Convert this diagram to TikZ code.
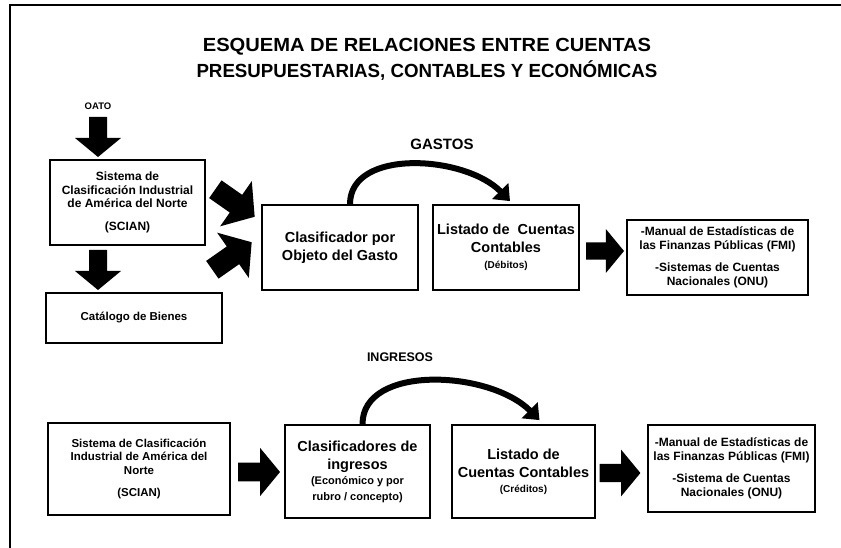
\documentclass[tikz,border=0pt]{standalone}
\usepackage{fontspec}
\setmainfont{Liberation Sans}
\usetikzlibrary{arrows.meta}
\newcommand\fatarr[3]{\begin{scope}[shift={(#1)},rotate=#2,scale=#3]
 \fill[black] (-20,-9) -- (1,-9) -- (1,-23) -- (20,0) -- (1,23) -- (1,9) -- (-20,9) -- cycle;
\end{scope}}
\newcommand\smalltxt{\fontsize{10}{12}\selectfont}
\newcommand\midtxt{\fontsize{11}{13.5}\selectfont}
\tikzset{
 box/.style={draw, line width=1.8pt, align=center, inner sep=0pt, font=\bfseries\fontsize{11.5}{13.5}\selectfont},
 bigtxt/.style={font=\bfseries\fontsize{14.5}{18}\selectfont},
 mantxt/.style={font=\bfseries\fontsize{12}{13.5}\selectfont},
 lbl/.style={font=\bfseries\fontsize{13}{15}\selectfont},
 curvearr/.style={line width=6pt, -{Triangle[width=22pt,length=14pt]}},
}
\begin{document}
\begin{tikzpicture}[x=1pt,y=-1pt]
\useasboundingbox (0,0) rectangle (841,548);
% frame
\coordinate (fbl) at (10,548); \coordinate (ftl) at (10,5); \coordinate (ftr) at (841,5);
\draw[line width=1.6pt] (fbl) -- (ftl) -- (ftr);
% title
\node[font=\bfseries\fontsize{19}{26}\selectfont, align=center] (title) at (427,59)
 {\scalebox{1.06}[1]{ESQUEMA DE RELACIONES ENTRE CUENTAS}\\\scalebox{0.985}[1]{PRESUPUESTARIAS, CONTABLES Y ECONÓMICAS}};
\node[font=\bfseries\fontsize{9.5}{11}\selectfont] (oato) at (98,106) {OATO};
% row 1
\node[box, font=\bfseries\fontsize{12}{13.5}\selectfont, minimum width=155pt, minimum height=85pt] (sc1) at (127.5,202.5)
 {Sistema de\\Clasificación Industrial\\de América del Norte\\[9pt](SCIAN)};
\node[box, minimum width=176pt, minimum height=50pt] (cat) at (134,318) {Catálogo de Bienes};
\node[box, bigtxt, minimum width=156pt, minimum height=85pt] (obj) at (340,247.5)
 {Clasificador por\\Objeto del Gasto};
\node[box, bigtxt, minimum width=146pt, minimum height=85pt] (lis1) at (506,247.5)
 {Listado de \ Cuentas\\Contables\\[-2pt]\smalltxt (Débitos)};
\node[box, mantxt, minimum width=181pt, minimum height=75pt] (man1) at (717.5,257.5)
 {-Manual de Estadísticas de\\las Finanzas Públicas (FMI)\\[9pt]-Sistemas de Cuentas\\Nacionales (ONU)};
\node[lbl, font=\bfseries\fontsize{15}{17}\selectfont] (gastos) at (442,144) {GASTOS};
% row 2
\node[lbl, font=\bfseries\fontsize{12.5}{15}\selectfont] (ingresos) at (400,357) {INGRESOS};
\node[box, minimum width=182pt, minimum height=92pt] (sc2) at (139,469)
 {Sistema de Clasificación\\Industrial de América del\\Norte\\[9pt](SCIAN)};
\node[box, bigtxt, minimum width=145pt, minimum height=93pt] (cls2) at (357.5,471.5)
 {Clasificadores de\\ingresos\\[-3pt]\midtxt (Económico y por\\[-2pt]\midtxt rubro / concepto)};
\node[box, bigtxt, minimum width=143pt, minimum height=93pt] (lis2) at (523.5,471.5)
 {Listado de\\Cuentas Contables\\[-3pt]\smalltxt (Créditos)};
\node[box, mantxt, minimum width=167pt, minimum height=87pt] (man2) at (731.5,468.5)
 {-Manual de Estadísticas de\\las Finanzas Públicas (FMI)\\[9pt]-Sistema de Cuentas\\Nacionales (ONU)};
% fat arrows
\fatarr{98,137}{-90}{1}
\fatarr{98,270}{-90}{1}
\fatarr{235,203}{-35}{1.2}
\fatarr{232,256}{35}{1.2}
\fatarr{605,251}{0}{0.95}
\fatarr{259,472}{0}{1.05}
\fatarr{620,473}{0}{1.02}
% curved arrows
\draw[curvearr] ([xshift=10pt]obj.north) .. controls +(0,-56) and +(-45,-46) .. ([xshift=4pt,yshift=3pt]lis1.north);
\draw[curvearr] ([xshift=5pt]cls2.north) .. controls +(0,-60) and +(-50,-50) .. ([xshift=16pt,yshift=4pt]lis2.north);
\end{tikzpicture}
\end{document}
